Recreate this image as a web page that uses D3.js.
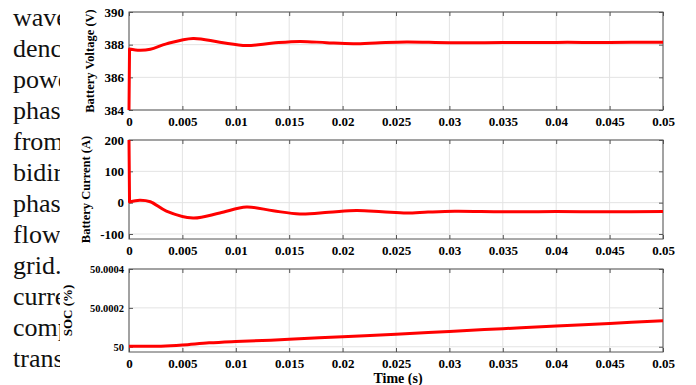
<!DOCTYPE html>
<html>
<head>
<meta charset="utf-8">
<script src="https://cdn.jsdelivr.net/npm/d3@7"></script>
<style>
  html, body { margin: 0; padding: 0; background: #fff; }
  svg { display: block; }
</style>
</head>
<body>
<svg id="chart" width="696" height="385"></svg>
<script>
// Battery voltage / current / SOC over time, three stacked panels
const bodyLines = ["waveform", "dence", "power", "phase", "from", "bidirectional",
  "phase", "flow", "grid.", "current", "compensation", "transient"];

const xTicks = [0, 0.005, 0.01, 0.015, 0.02, 0.025, 0.03, 0.035, 0.04, 0.045, 0.05];
const xTickLabels = ["0", "0.005", "0.01", "0.015", "0.02", "0.025", "0.03", "0.035", "0.04", "0.045", "0.05"];

const timeV = [0, 0.00005, 0.001, 0.002, 0.0035, 0.006, 0.0085, 0.011, 0.0135, 0.016, 0.0185,
  0.021, 0.0235, 0.026, 0.03, 0.035, 0.04, 0.045, 0.05];
const voltage = [384, 387.74, 387.66, 387.72, 388.05, 388.38, 388.15, 387.95, 388.1, 388.2, 388.12,
  388.06, 388.12, 388.16, 388.12, 388.13, 388.14, 388.14, 388.15];
const voltageTicks = [384, 386, 388, 390];

const timeI = [0, 0.00005, 0.001, 0.002, 0.0035, 0.006, 0.0085, 0.011, 0.0135, 0.016, 0.0187,
  0.0213, 0.0237, 0.026, 0.028, 0.0305, 0.035, 0.04, 0.045, 0.05];
const current = [200, 2, 8, 3, -27, -49, -33, -14, -26, -36, -31,
  -25, -29, -33, -30, -27.5, -29, -28.5, -29, -28];
const currentTicks = [-100, 0, 100, 200];

const timeS = [0, 0.002, 0.003, 0.005, 0.0075, 0.01, 0.015, 0.02, 0.025, 0.03, 0.035, 0.04, 0.045, 0.05];
const soc = [50.000003, 50.000002, 50.000003, 50.000009, 50.00002, 50.000027, 50.000038, 50.000052,
  50.000064, 50.000079, 50.000093, 50.000107, 50.00012, 50.000134];
const socTicks = [50, 50.0002, 50.0004];
const socTickLabels = ["50", "50.0002", "50.0004"];

const svg = d3.select("#chart");
const serif = "'Liberation Serif', 'Times New Roman', Times, 'DejaVu Serif', serif";

// body text of the page behind the figure
svg.append("g")
  .selectAll("text")
  .data(bodyLines)
  .join("text")
  .attr("x", 13)
  .attr("y", (d, i) => 26 + i * 31)
  .attr("font-family", serif)
  .attr("font-size", 26)
  .attr("fill", "#111")
  .text(d => d);

svg.append("rect")
  .attr("x", 60).attr("y", 0)
  .attr("width", 636).attr("height", 385)
  .attr("fill", "#fff");

const x = d3.scaleLinear().domain([0, 0.05]).range([129, 663]);

const panels = [
  { t: timeV, v: voltage, jump: true, domain: [384, 390], range: [110, 12], ticks: voltageTicks,
    labels: voltageTicks.map(String), title: "Battery Voltage (V)", titleX: 94, titleFont: 12.5, tickFont: 13 },
  { t: timeI, v: current, jump: true, domain: [-116, 200], range: [239, 140], ticks: currentTicks,
    labels: currentTicks.map(String), title: "Battery Current (A)", titleX: 90, titleFont: 12.5, tickFont: 13 },
  { t: timeS, v: soc, jump: false, domain: [49.999973, 50.0004], range: [352, 269], ticks: socTicks,
    labels: socTickLabels, title: "SOC (%)", titleX: 72, titleFont: 13, tickFont: 10.5 }
];

panels.forEach(p => {
  const y = d3.scaleLinear().domain(p.domain).range(p.range);
  const [top, bottom] = [p.range[1], p.range[0]];
  const g = svg.append("g");

  // grid
  g.append("g")
    .attr("stroke", "#e3e3e3")
    .attr("stroke-width", 1)
    .selectAll("line")
    .data(xTicks)
    .join("line")
    .attr("x1", d => x(d)).attr("x2", d => x(d))
    .attr("y1", top).attr("y2", bottom);
  g.append("g")
    .attr("stroke", "#e3e3e3")
    .attr("stroke-width", 1)
    .selectAll("line")
    .data(p.ticks)
    .join("line")
    .attr("x1", x.range()[0]).attr("x2", x.range()[1])
    .attr("y1", d => y(d)).attr("y2", d => y(d));

  // axes, ticks pointing inward
  const fmtX = d => xTickLabels[xTicks.indexOf(d)];
  const fmtY = d => p.labels[p.ticks.indexOf(d)];

  const ax = g.append("g")
    .attr("transform", `translate(0,${bottom})`)
    .call(d3.axisBottom(x).tickValues(xTicks).tickFormat(fmtX).tickSize(-4).tickPadding(7));
  g.append("g")
    .attr("transform", `translate(0,${top})`)
    .call(d3.axisTop(x).tickValues(xTicks).tickFormat("").tickSize(-4));
  const ay = g.append("g")
    .attr("transform", `translate(${x.range()[0]},0)`)
    .call(d3.axisLeft(y).tickValues(p.ticks).tickFormat(fmtY).tickSize(-4).tickPadding(5));
  g.append("g")
    .attr("transform", `translate(${x.range()[1]},0)`)
    .call(d3.axisRight(y).tickValues(p.ticks).tickFormat("").tickSize(-4));

  g.selectAll(".domain").remove();
  g.selectAll(".tick line").attr("stroke", "#555");
  ax.selectAll("text")
    .attr("font-family", serif).attr("font-size", 13).attr("font-weight", "bold").attr("fill", "#000");
  ay.selectAll("text")
    .attr("font-family", serif).attr("font-size", p.tickFont).attr("font-weight", "bold").attr("fill", "#000");

  g.append("rect")
    .attr("x", x.range()[0]).attr("y", top)
    .attr("width", x.range()[1] - x.range()[0]).attr("height", bottom - top)
    .attr("fill", "none").attr("stroke", "#555").attr("stroke-width", 1);

  const pts = p.v.map((v, i) => [x(p.t[i]), y(v)]);
  const line = d3.line().curve(d3.curveCatmullRom.alpha(0.5));
  // the step at t = 0 is a straight jump, the rest is smooth
  const d = p.jump
    ? `M${pts[0][0]},${pts[0][1]}L${line(pts.slice(1)).slice(1)}`
    : line(pts);

  g.append("path")
    .attr("fill", "none")
    .attr("stroke", "#ff0000")
    .attr("stroke-width", 3)
    .attr("stroke-linejoin", "round")
    .attr("d", d);

  g.append("text")
    .attr("transform", `translate(${p.titleX},${(top + bottom) / 2}) rotate(-90)`)
    .attr("text-anchor", "middle")
    .attr("font-family", serif).attr("font-size", p.titleFont).attr("font-weight", "bold")
    .attr("fill", "#000")
    .text(p.title);
});

svg.append("text")
  .attr("x", 398).attr("y", 383)
  .attr("text-anchor", "middle")
  .attr("font-family", serif).attr("font-size", 14).attr("font-weight", "bold")
  .attr("fill", "#000")
  .text("Time (s)");
</script>
</body>
</html>
